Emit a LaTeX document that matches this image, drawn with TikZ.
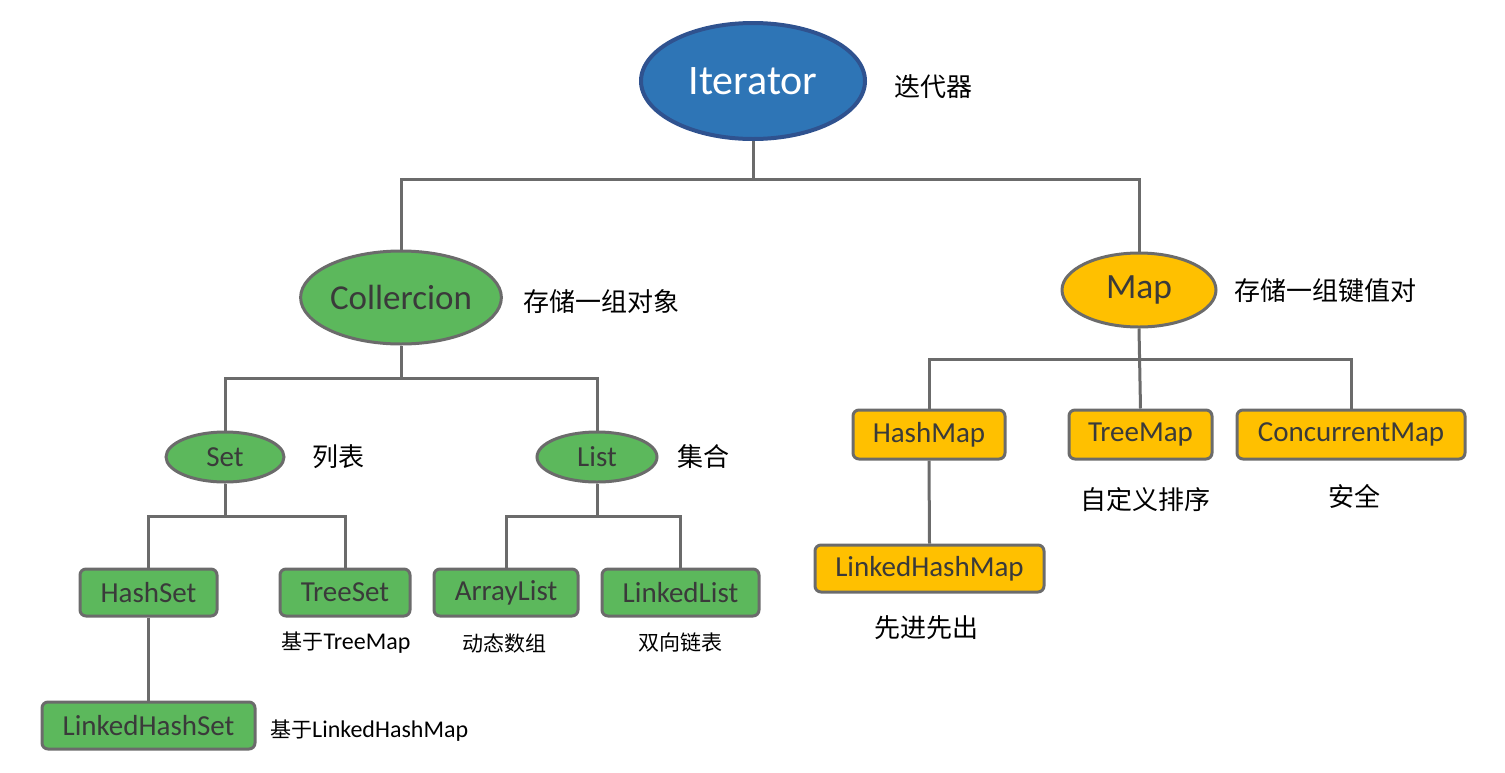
\documentclass[tikz,border=0pt]{standalone}
\usepackage{fontspec}
\setmainfont{Carlito}
\newfontfamily\cjk{Noto Sans CJK SC}
\usetikzlibrary{shapes.geometric}
\definecolor{ublue}{HTML}{2E75B6}
\definecolor{ubluedk}{HTML}{2F528F}
\definecolor{ugreen}{HTML}{5CB85C}
\definecolor{uyellow}{HTML}{FFC000}
\definecolor{uline}{HTML}{6B6B6B}
\definecolor{utext}{HTML}{3A3A3A}
\tikzset{
  x=1pt, y=-1pt,
  conn/.style={draw=uline, line width=3pt},
  ell/.style={ellipse, draw=uline, line width=3pt, inner sep=0pt, text=utext},
  gbox/.style={rectangle, rounded corners=6pt, draw=uline, line width=3pt, fill=ugreen, inner sep=0pt, text=utext, font=\fontsize{29}{33}\selectfont},
  ybox/.style={gbox, fill=uyellow},
  lab/.style={font=\fontsize{26}{30}\selectfont\cjk, text=black, inner sep=0pt},
  slab/.style={font=\fontsize{24}{28}\selectfont, text=black, inner sep=0pt},
  scjk/.style={font=\fontsize{21}{25}\selectfont\cjk, text=black, inner sep=0pt},
}
\newcommand{\smallcjk}[1]{{\fontsize{21}{25}\selectfont\cjk #1}}
\begin{document}
\begin{tikzpicture}
\useasboundingbox (0,0) rectangle (1505,772);
% ellipses
\node[ellipse, draw=ubluedk, line width=4pt, fill=ublue, inner sep=0pt, minimum width=224pt, minimum height=116pt, text=white, font=\fontsize{42}{46}\selectfont] (iter) at (753,81) {Iterator};
\node[ell, fill=ugreen, minimum width=196pt, minimum height=93pt, font=\fontsize{35}{39}\selectfont] (coll) at (401,297.5) {Collercion};
\node[ell, fill=uyellow, minimum width=154pt, minimum height=74pt, font=\fontsize{35.5}{39}\selectfont] (map) at (1139,290) {Map};
\node[ell, fill=ugreen, minimum width=118pt, minimum height=50pt, font=\fontsize{29}{33}\selectfont] (set) at (225,457) {Set};
\node[ell, fill=ugreen, minimum width=120pt, minimum height=50pt, font=\fontsize{29}{33}\selectfont] (list) at (597,457) {List};
% green boxes
\node[gbox, minimum width=137pt, minimum height=47pt] (hashset) at (148.5,592.5) {HashSet};
\node[gbox, minimum width=130pt, minimum height=47pt] (treeset) at (345,592.5) {TreeSet};
\node[gbox, minimum width=144pt, minimum height=47pt] (arraylist) at (506,592.5) {ArrayList};
\node[gbox, minimum width=157pt, minimum height=47pt] (linkedlist) at (680.5,592.5) {LinkedList};
\node[gbox, minimum width=213pt, minimum height=47pt] (lhs) at (148.5,725.5) {LinkedHashSet};
% yellow boxes
\node[ybox, minimum width=152pt, minimum height=49pt] (hashmap) at (929,434.5) {HashMap};
\node[ybox, minimum width=143pt, minimum height=49pt] (treemap) at (1140.5,434.5) {TreeMap};
\node[ybox, minimum width=228pt, minimum height=49pt] (cmap) at (1351,434.5) {ConcurrentMap};
\node[ybox, minimum width=229pt, minimum height=47pt] (lhm) at (929.5,568.5) {LinkedHashMap};
% bus coordinates
\coordinate (b1) at (753,179);
\coordinate (b2) at (401,378);
\coordinate (b3) at (225,516);
\coordinate (b4) at (597,516);
\coordinate (b5) at (1139,359);
% connectors
\draw[conn] (iter.south) -- (b1);
\draw[conn] (coll.north) |- (b1) -| (map.north);
\draw[conn] (coll.south) -- (b2);
\draw[conn] (set.north) |- (b2) -| (list.north);
\draw[conn] (set.south) -- (b3);
\draw[conn] (hashset.north) |- (b3) -| (treeset.north);
\draw[conn] (list.south) -- (b4);
\draw[conn] (arraylist.north) |- (b4) -| (linkedlist.north);
\draw[conn] (hashset.south) -- (lhs.north);
\draw[conn] (map.south) -- (treemap.north);
\draw[conn] (hashmap.north) |- (b5) -| (cmap.north);
\draw[conn] (hashmap.south) -- (lhm.north);
% labels
\node[lab] (l1) at (933,87) {迭代器};
\node[lab] (l2) at (601,302) {存储一组对象};
\node[lab] (l3) at (1325,291) {存储一组键值对};
\node[lab] (l4) at (338,457) {列表};
\node[lab] (l5) at (703,457) {集合};
\node[lab] (l6) at (1145,500) {自定义排序};
\node[lab] (l7) at (1354,496) {安全};
\node[lab] (l8) at (926,628) {先进先出};
\node[slab] (l9) at (346,643) {\smallcjk{基于}TreeMap};
\node[scjk] (l10) at (504,643) {动态数组};
\node[scjk] (l11) at (680,642) {双向链表};
\node[slab, anchor=west] (l12) at (270,731) {\smallcjk{基于}LinkedHashMap};
\end{tikzpicture}
\end{document}
